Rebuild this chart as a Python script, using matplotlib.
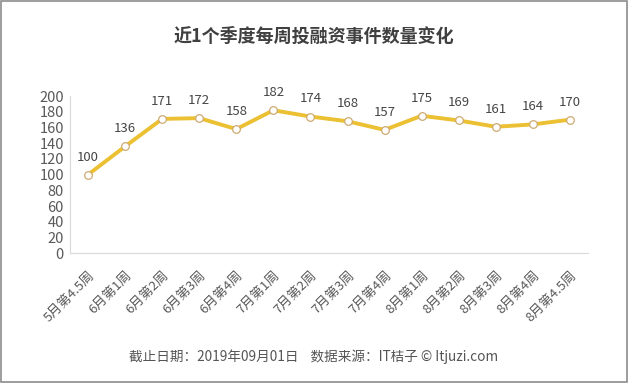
import matplotlib
matplotlib.use("Agg")
import matplotlib.pyplot as plt
from matplotlib.patches import Rectangle

plt.rcParams['font.family'] = ['Noto Sans CJK SC', 'DejaVu Sans']

categories = ["5月第4.5周", "6月第1周", "6月第2周", "6月第3周", "6月第4周",
              "7月第1周", "7月第2周", "7月第3周", "7月第4周", "8月第1周",
              "8月第2周", "8月第3周", "8月第4周", "8月第4.5周"]
values = [100, 136, 171, 172, 158, 182, 174, 168, 157, 175, 169, 161, 164, 170]
yticks = list(range(0, 201, 20))

title = "近1个季度每周投融资事件数量变化"
footer = "截止日期：2019年09月01日    数据来源：IT桔子 © Itjuzi.com"

fig = plt.figure(figsize=(6.28, 3.83), dpi=100)
ax = fig.add_axes([0.1107, 0.339, 0.8263, 0.410])

x = list(range(len(categories)))
ax.plot(x, values, color="#EBC032", lw=2.8, zorder=2,
        marker="o", markersize=5.5, markerfacecolor="white",
        markeredgecolor="#CDAA72", markeredgewidth=0.9)
for xi, v in zip(x, values):
    ax.annotate(str(v), (xi, v), xytext=(0, 8), textcoords="offset points",
                ha="center", va="bottom", fontsize=9.5, color="#454545")

ax.set_xlim(-0.5, len(categories) - 0.5)
ax.set_ylim(0, 200)
ax.set_yticks(yticks)
ax.set_yticklabels([str(t) for t in yticks], fontsize=10.5, color="#595959")
ax.set_xticks(x)
ax.set_xticklabels(categories, rotation=45, ha="right", rotation_mode="anchor",
                   fontsize=9.5, color="#595959")
ax.tick_params(length=0, pad=4)
ax.tick_params(axis="x", pad=11)
for s in ["top", "right"]:
    ax.spines[s].set_visible(False)
for s in ["left", "bottom"]:
    ax.spines[s].set_color("#D9D9D9")
    ax.spines[s].set_linewidth(0.8)

fig.text(0.5, 0.905, title, ha="center", va="center", fontsize=13,
         fontweight="bold", color="#404040")
fig.text(0.5, 0.068, footer, ha="center", va="center", fontsize=9.8, color="#555555")

fig.patches.append(Rectangle((0.001, 0.002), 0.997, 0.996, transform=fig.transFigure,
                             fill=False, edgecolor="#8C8C8C", lw=1.2))

fig.savefig("out.png", dpi=100)
